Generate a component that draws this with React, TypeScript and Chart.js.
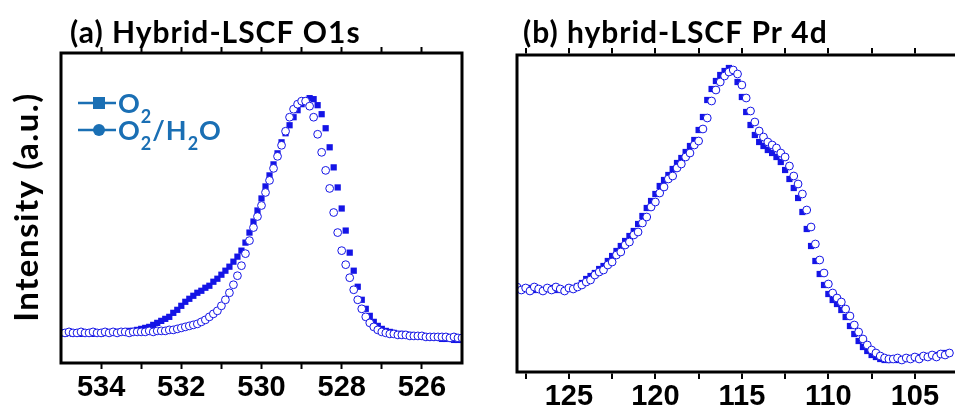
import React, { useEffect, useRef } from 'react';
import { Chart, registerables } from 'chart.js';

Chart.register(...registerables);

// ---------- data ----------
// (a) O 1s : binding energy grid 535.0 -> 525.0 eV, step 0.1 eV
const O1S_START = 535;
const O1S_STEP = -0.1;
const o1sO2 = [
  29, 29, 30, 29, 29, 29, 30, 29, 29, 30,
  29, 30, 30, 30, 31, 31, 31, 32, 32, 33,
  34, 35, 36, 38, 40, 42, 44, 46, 50, 53,
  57, 61, 64, 67, 70, 72, 75, 77, 81, 84,
  88, 92, 96, 101, 106, 112, 120, 130, 141, 152,
  164, 176, 187, 198, 209, 220, 229, 237, 245, 252,
  258, 262, 264, 263, 257, 248, 234, 215, 195, 175,
  154, 132, 110, 92, 76, 63, 54, 47, 41, 37,
  34, 32, 31, 30, 29, 29, 28, 28, 27, 27,
  26, 26, 25, 25, 25, 24, 24, 24, 23, 23, 23,
];
const o1sO2H2O = [
  30, 30, 31, 30, 30, 31, 30, 30, 31, 30,
  30, 31, 30, 31, 30, 31, 31, 30, 31, 31,
  31, 31, 32, 31, 32, 32, 32, 33, 33, 34,
  35, 36, 37, 38, 39, 41, 43, 46, 49, 52,
  57, 63, 70, 78, 87, 97, 109, 122, 135, 146,
  157, 170, 182, 194, 206, 217, 231, 245, 253, 258,
  261, 261, 256, 245, 228, 210, 192, 174, 150, 130,
  112, 98, 85, 73, 63, 54, 46, 40, 36, 33,
  31, 30, 29, 29, 28, 28, 28, 27, 27, 27,
  27, 26, 26, 26, 26, 26, 26, 25, 26, 25, 25,
];
const o1sRange = [525, 535];
const o1sMajorTicks = [534, 532, 530, 528, 526];
const o1sMinorTicks = [533, 531, 529, 527];

// (b) Pr 4d : binding energy grid 128 -> 103 eV, step 0.25 eV
const PR4D_START = 128;
const PR4D_STEP = -0.25;
const pr4dO2 = [
  84, 82, 83, 84, 82, 83, 82, 83, 84, 82,
  83, 82, 84, 84, 86, 89, 93, 96, 99, 103,
  106, 111, 116, 121, 126, 131, 136, 141, 148, 156,
  164, 171, 178, 186, 192, 197, 203, 209, 214, 220,
  226, 232, 242, 255, 272, 283, 291, 297, 301, 304,
  300, 290, 275, 260, 247, 237, 230, 226, 222, 219,
  215, 210, 202, 193, 184, 174, 160, 143, 126, 111,
  98, 87, 78, 72, 68, 62, 55, 46, 38, 31,
  25, 21, 17, 15, 13, 12, 12, 13, 12, 13,
  13, 14, 14, 15, 15, 16, 16, 17, 18, 19, 19,
];
const pr4dO2H2O = [
  85, 82, 84, 81, 85, 83, 81, 84, 82, 85,
  83, 81, 84, 83, 85, 87, 90, 92, 97, 100,
  102, 107, 110, 117, 120, 127, 130, 137, 140, 149,
  155, 165, 170, 179, 185, 193, 196, 204, 208, 215,
  219, 227, 231, 243, 254, 271, 282, 290, 296, 300,
  302, 298, 287, 274, 261, 250, 241, 235, 230, 227,
  224, 219, 215, 206, 196, 188, 178, 162, 145, 128,
  112, 99, 88, 79, 74, 70, 63, 56, 47, 40,
  33, 27, 22, 19, 16, 14, 13, 13, 14, 12,
  14, 13, 15, 13, 16, 15, 17, 15, 18, 17, 19,
];
// the panel is cut at the right edge of the figure (about 103 eV)
const pr4dRange = [102.1, 128];
const pr4dMajorTicks = [125, 120, 115, 110, 105];
const pr4dMinorTicks = [127.5, 122.5, 117.5, 112.5, 107.5];

const seriesNames = ['O2', 'O2/H2O'];
const titleA = '(a) Hybrid-LSCF O1s';
const titleB = '(b) hybrid-LSCF Pr 4d';
const yTitle = 'Intensity (a.u.)';

// ---------- styles ----------
const BLUE = '#1414e6';
const LEGEND_BLUE = '#1a6fb4';
const LABEL_FONT = 'Lato';
const TICK_FONT = 'Liberation Sans';

const toXY = (start: number, step: number, ys: number[]) =>
  ys.map((y, i) => ({ x: +(start + step * i).toFixed(2), y }));

function drawRich(ctx: CanvasRenderingContext2D, text: string, x: number, y: number, size: number) {
  let cx = x;
  for (const ch of text) {
    const sub = /[0-9]/.test(ch);
    const s = sub ? Math.round(size * 0.68) : size;
    ctx.font = `bold ${s}px ${LABEL_FONT}`;
    ctx.fillText(ch, cx, sub ? y + size * 0.36 : y);
    cx += ctx.measureText(ch).width + 1;
  }
}

type OverlayOpts = {
  title: string;
  tx: number;
  ty: number;
  rightBorder: boolean;
  yTitle?: boolean;
  legend?: boolean;
  ownAxes?: { major: number[]; minor: number[] };
};

function overlayPlugin(o: OverlayOpts) {
  return {
    id: 'overlay',
    afterDraw(chart: any) {
      const ctx: any = chart.ctx;
      const a = chart.chartArea;
      ctx.save();
      // frame
      ctx.strokeStyle = '#000';
      ctx.lineWidth = 3;
      ctx.lineCap = 'butt';
      ctx.beginPath();
      ctx.moveTo(a.left, a.bottom + 1.5);
      ctx.lineTo(a.left, a.top - 1.5);
      ctx.moveTo(a.left - 1.5, a.top);
      ctx.lineTo(a.right, a.top);
      ctx.moveTo(a.left - 1.5, a.bottom);
      ctx.lineTo(a.right, a.bottom);
      if (o.rightBorder) {
        ctx.moveTo(a.right, a.top - 1.5);
        ctx.lineTo(a.right, a.bottom + 1.5);
      }
      ctx.stroke();
      // ticks + labels drawn from the chart's x scale
      if (o.ownAxes) {
        const sx = chart.scales.x;
        const all = [...o.ownAxes.major, ...o.ownAxes.minor];
        ctx.lineWidth = 2;
        ctx.beginPath();
        all.forEach((v) => {
          const px = Math.round(sx.getPixelForValue(v));
          ctx.moveTo(px, a.top - 1.5);
          ctx.lineTo(px, a.top - 7);
          ctx.moveTo(px, a.bottom + 1.5);
          ctx.lineTo(px, a.bottom + 7);
        });
        ctx.stroke();
        ctx.fillStyle = '#000';
        ctx.font = `bold 29px ${TICK_FONT}`;
        ctx.textAlign = 'center';
        ctx.textBaseline = 'top';
        o.ownAxes.major.forEach((v) => {
          ctx.fillText(String(v), sx.getPixelForValue(v), a.bottom + 10);
        });
      }
      // title
      ctx.fillStyle = '#000';
      ctx.textAlign = 'left';
      ctx.textBaseline = 'alphabetic';
      ctx.font = `bold 30px ${LABEL_FONT}`;
      ctx.letterSpacing = '1px';
      ctx.fillText(o.title, o.tx, o.ty);
      // y title
      if (o.yTitle) {
        ctx.save();
        ctx.translate(38, 207);
        ctx.rotate(-Math.PI / 2);
        ctx.textAlign = 'center';
        ctx.font = `bold 33px ${LABEL_FONT}`;
        ctx.letterSpacing = '1.5px';
        ctx.fillText(yTitle, 0, 0);
        ctx.restore();
      }
      ctx.letterSpacing = '0px';
      // legend
      if (o.legend) {
        const rows = [103, 130];
        seriesNames.forEach((name, i) => {
          const y = rows[i];
          ctx.strokeStyle = LEGEND_BLUE;
          ctx.fillStyle = LEGEND_BLUE;
          ctx.lineWidth = 2.5;
          ctx.beginPath();
          ctx.moveTo(78, y);
          ctx.lineTo(116, y);
          ctx.stroke();
          if (i === 0) {
            ctx.fillRect(93, y - 6, 12, 12);
          } else {
            ctx.beginPath();
            ctx.arc(99, y, 6, 0, Math.PI * 2);
            ctx.fill();
          }
          ctx.textAlign = 'left';
          drawRich(ctx, name, 118, y + 10, 27);
        });
      }
      ctx.restore();
    },
  };
}

function datasets(o2: { x: number; y: number }[], h2o: { x: number; y: number }[]) {
  return [
    {
      label: seriesNames[0],
      data: o2,
      pointStyle: 'rect',
      pointRadius: 4.4,
      backgroundColor: BLUE,
      borderColor: BLUE,
      borderWidth: 0,
      showLine: false,
      order: 2,
    },
    {
      label: seriesNames[1],
      data: h2o,
      pointStyle: 'circle',
      pointRadius: 3.9,
      backgroundColor: '#ffffff',
      borderColor: BLUE,
      borderWidth: 1,
      showLine: false,
      order: 1,
    },
  ];
}

const basePlugins = {
  legend: { display: false },
  tooltip: { enabled: false },
  title: { display: false },
};

function configA() {
  const tickGrid = { drawOnChartArea: false, drawTicks: true, tickLength: 6, tickWidth: 2, color: '#000' };
  const setTicks = (s: any) => {
    s.ticks = [...o1sMajorTicks, ...o1sMinorTicks].sort((a, b) => b - a).map((v) => ({ value: v }));
  };
  return {
    type: 'scatter',
    data: {
      datasets: datasets(toXY(O1S_START, O1S_STEP, o1sO2), toXY(O1S_START, O1S_STEP, o1sO2H2O)),
    },
    options: {
      animation: false,
      responsive: false,
      maintainAspectRatio: false,
      events: [],
      layout: { padding: { left: 61, right: 28, top: 0, bottom: 0 } },
      plugins: basePlugins,
      scales: {
        x: {
          type: 'linear',
          position: 'bottom',
          min: o1sRange[0],
          max: o1sRange[1],
          reverse: true,
          afterBuildTicks: setTicks,
          ticks: {
            autoSkip: false,
            maxRotation: 0,
            color: '#000',
            padding: 2,
            font: { family: TICK_FONT, weight: 'bold', size: 29 },
            callback: (v: number) => (o1sMajorTicks.includes(v) ? String(v) : ''),
          },
          grid: tickGrid,
          border: { display: false },
          afterFit: (s: any) => {
            s.height = 45;
          },
        },
        xTop: {
          type: 'linear',
          position: 'top',
          min: o1sRange[0],
          max: o1sRange[1],
          reverse: true,
          afterBuildTicks: setTicks,
          ticks: { display: false },
          grid: tickGrid,
          border: { display: false },
          afterFit: (s: any) => {
            s.height = 53;
          },
        },
        y: { display: false, min: 0, max: 309 },
      },
    },
    plugins: [overlayPlugin({ title: titleA, tx: 70, ty: 43, rightBorder: true, yTitle: true, legend: true })],
  } as any;
}

function configB() {
  return {
    type: 'scatter',
    data: {
      datasets: datasets(toXY(PR4D_START, PR4D_STEP, pr4dO2), toXY(PR4D_START, PR4D_STEP, pr4dO2H2O)),
    },
    options: {
      animation: false,
      responsive: false,
      maintainAspectRatio: false,
      events: [],
      layout: { padding: { left: 27, right: 1, top: 55, bottom: 36 } },
      plugins: basePlugins,
      scales: {
        x: { type: 'linear', display: false, min: pr4dRange[0], max: pr4dRange[1], reverse: true },
        y: { display: false, min: 0, max: 317 },
      },
    },
    plugins: [
      overlayPlugin({
        title: titleB,
        tx: 33,
        ty: 43,
        rightBorder: false,
        ownAxes: { major: pr4dMajorTicks, minor: pr4dMinorTicks },
      }),
    ],
  } as any;
}

export default function App() {
  const refA = useRef<HTMLCanvasElement>(null);
  const refB = useRef<HTMLCanvasElement>(null);

  useEffect(() => {
    const a = new Chart(refA.current!, configA());
    const b = new Chart(refB.current!, configB());
    return () => {
      a.destroy();
      b.destroy();
    };
  }, []);

  return (
    <div style={{ position: 'fixed', left: 0, top: 0, width: 955, height: 408, background: '#fff', overflow: 'hidden' }}>
      <canvas ref={refA} width={490} height={408} style={{ position: 'absolute', left: 0, top: 0, width: 490, height: 408 }} />
      <canvas ref={refB} width={480} height={408} style={{ position: 'absolute', left: 490, top: 0, width: 480, height: 408 }} />
    </div>
  );
}
